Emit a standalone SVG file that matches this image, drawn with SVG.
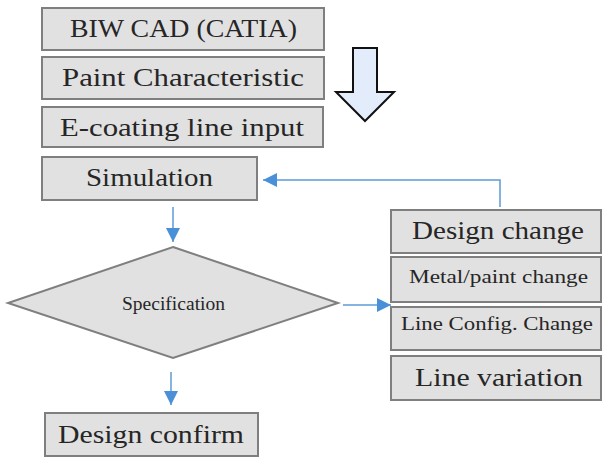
<svg xmlns="http://www.w3.org/2000/svg" width="602" height="457" viewBox="0 0 602 457">
<style>
.box{fill:#e1e1e1;stroke:#7f7f7f;stroke-width:2}
.t{font-family:"Liberation Serif","DejaVu Serif",serif;fill:#262626;text-anchor:start}
.con{stroke:#5b9bd5;stroke-width:1.5;fill:none}
</style>
<defs>
<marker id="ah" markerWidth="14" markerHeight="14" refX="14" refY="7" orient="auto" markerUnits="userSpaceOnUse">
<path d="M0,0 L14,7 L0,14 Z" fill="#4a90d9"/>
</marker>
</defs>
<rect width="602" height="457" fill="#ffffff"/>
<g id="biw"><rect class="box" x="42" y="8" width="282" height="42"/><text class="t" x="70" y="37" font-size="26" textLength="227" lengthAdjust="spacingAndGlyphs">BIW CAD (CATIA)</text></g>
<g id="paint"><rect class="box" x="42" y="57" width="282" height="42"/><text class="t" x="62" y="86" font-size="26" textLength="242" lengthAdjust="spacingAndGlyphs">Paint Characteristic</text></g>
<g id="ecoat"><rect class="box" x="42" y="107" width="281" height="40"/><text class="t" x="60" y="136" font-size="26" textLength="244" lengthAdjust="spacingAndGlyphs">E-coating line input</text></g>
<g id="bigarrow"><path d="M353,48 L377,48 L377,92 L394,92 L365,121 L336,92 L353,92 Z" fill="#e2ecfa" stroke="#111" stroke-width="2" stroke-linejoin="miter"/></g>
<g id="simulation"><rect class="box" x="42" y="157" width="215" height="43"/><text class="t" x="86" y="186" font-size="25" textLength="127" lengthAdjust="spacingAndGlyphs">Simulation</text></g>
<g id="spec"><polygon class="box" points="173,247 338,303 173,358 8,303"/><text class="t" x="122" y="310" font-size="18" textLength="103" lengthAdjust="spacingAndGlyphs">Specification</text></g>
<g id="confirm"><rect class="box" x="45" y="413" width="213" height="43"/><text class="t" x="58" y="443" font-size="26" textLength="186" lengthAdjust="spacingAndGlyphs">Design confirm</text></g>
<g id="designchange"><rect class="box" x="391" y="210" width="210" height="43"/><text class="t" x="412" y="239" font-size="25" textLength="172" lengthAdjust="spacingAndGlyphs">Design change</text></g>
<g id="metal"><rect class="box" x="391" y="257" width="210" height="45"/><text class="t" x="409" y="283" font-size="18" textLength="179" lengthAdjust="spacingAndGlyphs">Metal/paint change</text></g>
<g id="lineconfig"><rect class="box" x="391" y="307" width="210" height="43"/><text class="t" x="401" y="330" font-size="18" textLength="192" lengthAdjust="spacingAndGlyphs">Line Config. Change</text></g>
<g id="linevar"><rect class="box" x="391" y="356" width="210" height="44"/><text class="t" x="415" y="386" font-size="25" textLength="168" lengthAdjust="spacingAndGlyphs">Line variation</text></g>
<g id="connectors">
<path class="con" d="M500,207 L500,180 L263,180" marker-end="url(#ah)"/>
<path class="con" d="M173,207 L173,242" marker-end="url(#ah)"/>
<path class="con" d="M343,305 L391,305" marker-end="url(#ah)"/>
<path class="con" d="M171,372 L171,405" marker-end="url(#ah)"/>
</g>
</svg>
